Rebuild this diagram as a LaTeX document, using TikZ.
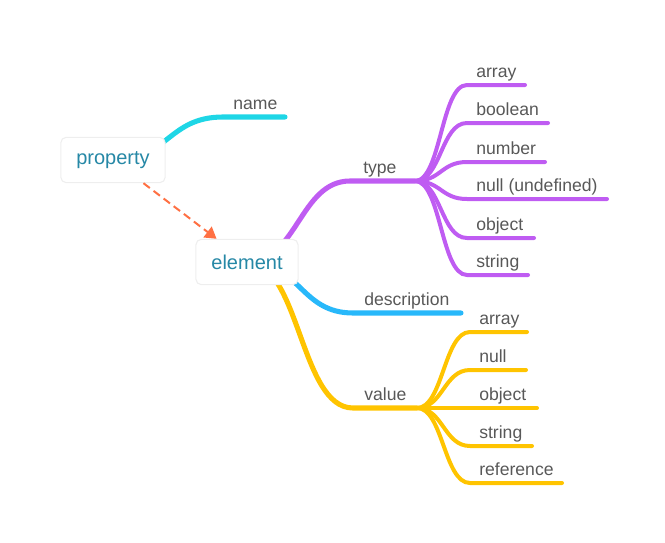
\documentclass[tikz,border=0pt]{standalone}
\usepackage{fontspec}
\setmainfont{Liberation Sans}
\usetikzlibrary{arrows.meta,backgrounds}

\definecolor{mmcyan}{RGB}{30,214,230}
\definecolor{mmpurple}{RGB}{191,92,242}
\definecolor{mmblue}{RGB}{40,184,250}
\definecolor{mmyellow}{RGB}{255,196,0}
\definecolor{mmorange}{RGB}{255,112,67}
\definecolor{mmteal}{RGB}{38,136,166}
\definecolor{mmtext}{RGB}{88,88,88}
\definecolor{mmborder}{RGB}{238,238,238}

\begin{document}
\begin{tikzpicture}[x=0.75pt, y=-0.75pt]

% Set the overall look of the map
\tikzstyle{topic}=[rectangle, rounded corners=4pt, draw=mmborder, line width=0.8pt, fill=white, text=mmteal, font=\fontsize{15}{18}\selectfont, inner xsep=11.6pt, minimum height=34pt]
\tikzstyle{leaf}=[anchor=base west, inner sep=0pt, text=mmtext, font=\fontsize{13.2}{16}\selectfont]
\tikzstyle{mainbranch}=[line width=3.8pt, line cap=round]
\tikzstyle{subbranch}=[line width=3pt, line cap=round]
\tikzstyle{link}=[mmorange, line width=1.5pt, dash pattern=on 6pt off 3.5pt, -{Triangle[width=10pt, length=8.5pt]}]

\useasboundingbox (0,0) rectangle (665,543);

% Central topics
\node[topic] (property) at (113,160) {property};
\node[topic] (element) at (247,262) {element};

% Ends of the main branches
\coordinate (name-s) at (223,117);   \coordinate (name-e) at (285,117);
\coordinate (type-s) at (350,181);   \coordinate (type-j) at (415,181);
\coordinate (descr-s) at (353,313);  \coordinate (descr-e) at (461,313);
\coordinate (value-s) at (353,408);  \coordinate (value-j) at (417,408);

% Labels of the main branches
\node[leaf] (name) at (233,109) {name};
\node[leaf] (type) at (363,173) {type};
\node[leaf] (descr) at (364,305) {description};
\node[leaf] (value) at (364,400) {value};

% Children of type
\coordinate (ta-s) at (467,85);   \coordinate (ta-e) at (525,85);
\coordinate (tb-s) at (467,123);  \coordinate (tb-e) at (548,123);
\coordinate (tn-s) at (467,162);  \coordinate (tn-e) at (545,162);
\coordinate (tu-s) at (467,199);  \coordinate (tu-e) at (607,199);
\coordinate (to-s) at (467,238);  \coordinate (to-e) at (534,238);
\coordinate (ts-s) at (467,275);  \coordinate (ts-e) at (528,275);

\node[leaf] (t-array) at (476,77) {array};
\node[leaf] (t-boolean) at (476,115) {boolean};
\node[leaf] (t-number) at (476,154) {number};
\node[leaf] (t-null) at (476,191) {null (undefined)};
\node[leaf] (t-object) at (476,230) {object};
\node[leaf] (t-string) at (476,267) {string};

% Children of value
\coordinate (va-s) at (470,332);  \coordinate (va-e) at (527,332);
\coordinate (vn-s) at (470,370);  \coordinate (vn-e) at (526,370);
\coordinate (vo-s) at (470,408);  \coordinate (vo-e) at (537,408);
\coordinate (vs-s) at (470,446);  \coordinate (vs-e) at (532,446);
\coordinate (vr-s) at (470,483);  \coordinate (vr-e) at (562,483);

\node[leaf] (v-array) at (479,324) {array};
\node[leaf] (v-null) at (479,362) {null};
\node[leaf] (v-object) at (479,400) {object};
\node[leaf] (v-string) at (479,438) {string};
\node[leaf] (v-reference) at (479,475) {reference};

% Branches go behind the boxes
\begin{pgfonlayer}{background}
\draw[mainbranch, mmcyan] (property.center) .. controls +(55,0) and +(-55,0) .. (name-s) -- (name-e);
\draw[mainbranch, mmpurple] (element.center) .. controls +(50,0) and +(-50,0) .. (type-s) -- (type-j);
\draw[mainbranch, mmblue] (element.center) .. controls +(53,0) and +(-53,0) .. (descr-s) -- (descr-e);
\draw[mainbranch, mmyellow] (element.center) .. controls +(53,0) and +(-53,0) .. (value-s) -- (value-j);

\draw[subbranch, mmpurple] (type-j) .. controls +(26,0) and +(-26,0) .. (ta-s) -- (ta-e);
\draw[subbranch, mmpurple] (type-j) .. controls +(26,0) and +(-26,0) .. (tb-s) -- (tb-e);
\draw[subbranch, mmpurple] (type-j) .. controls +(26,0) and +(-26,0) .. (tn-s) -- (tn-e);
\draw[subbranch, mmpurple] (type-j) .. controls +(26,0) and +(-26,0) .. (tu-s) -- (tu-e);
\draw[subbranch, mmpurple] (type-j) .. controls +(26,0) and +(-26,0) .. (to-s) -- (to-e);
\draw[subbranch, mmpurple] (type-j) .. controls +(26,0) and +(-26,0) .. (ts-s) -- (ts-e);

\draw[subbranch, mmyellow] (value-j) .. controls +(26,0) and +(-26,0) .. (va-s) -- (va-e);
\draw[subbranch, mmyellow] (value-j) .. controls +(26,0) and +(-26,0) .. (vn-s) -- (vn-e);
\draw[subbranch, mmyellow] (value-j) .. controls +(26,0) and +(-26,0) .. (vo-s) -- (vo-e);
\draw[subbranch, mmyellow] (value-j) .. controls +(26,0) and +(-26,0) .. (vs-s) -- (vs-e);
\draw[subbranch, mmyellow] (value-j) .. controls +(26,0) and +(-26,0) .. (vr-s) -- (vr-e);
\end{pgfonlayer}

% Dashed link between the topics
\draw[link] (property) -- (element);

\end{tikzpicture}
\end{document}
